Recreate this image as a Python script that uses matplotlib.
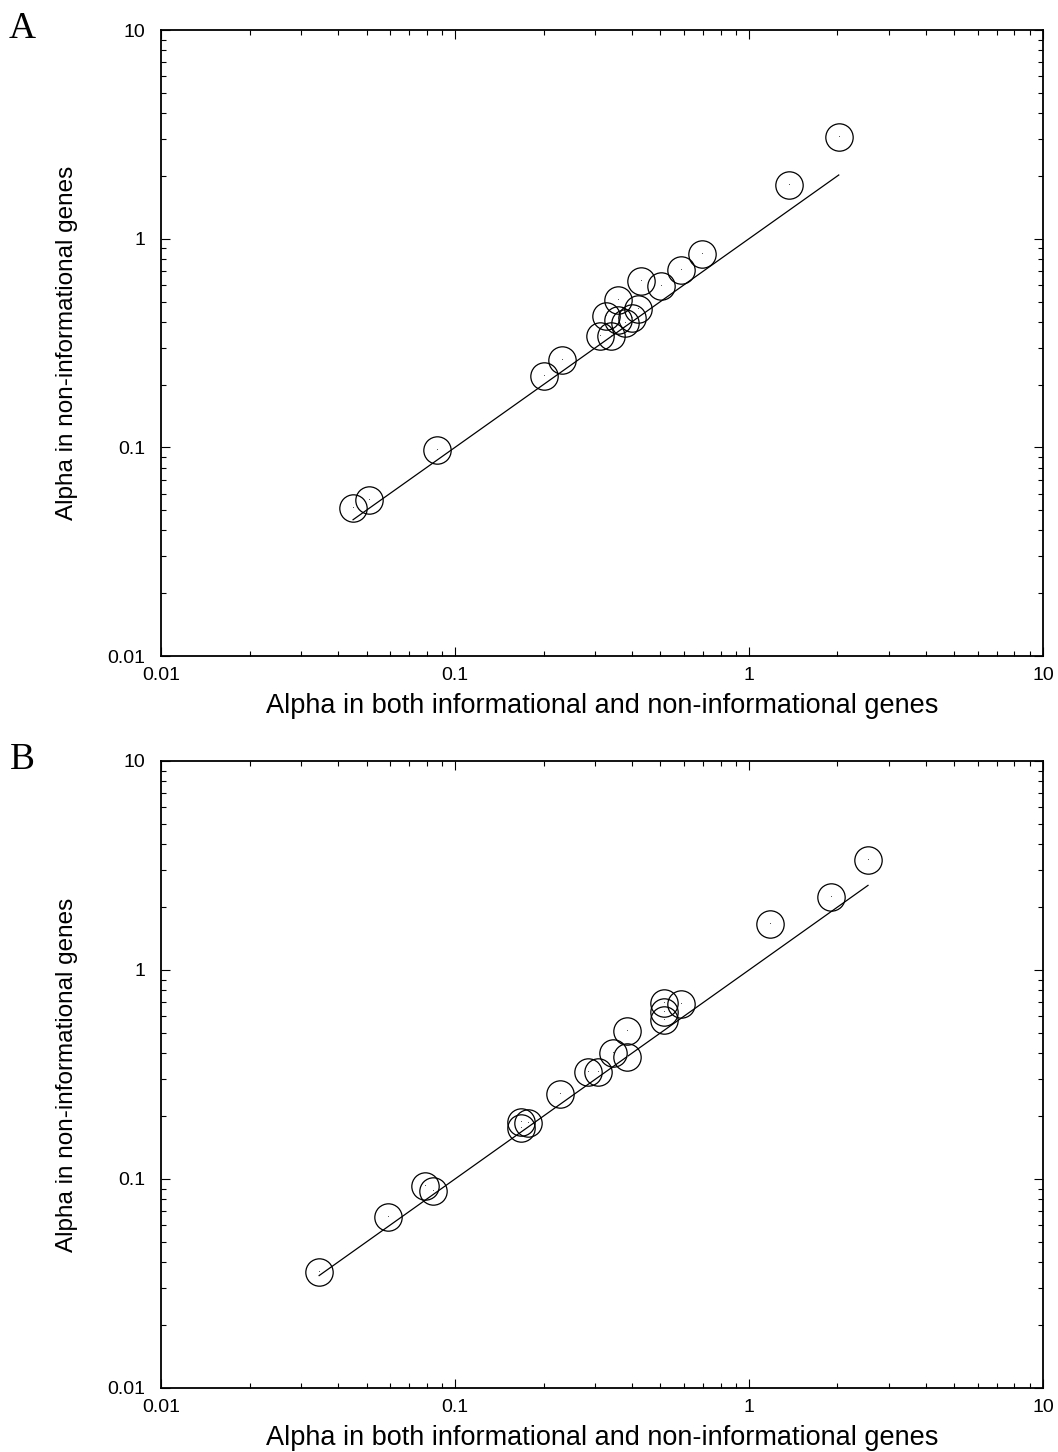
import numpy as np
from matplotlib import pyplot as plt
from matplotlib.ticker import LogLocator, NullFormatter

# panel A: alpha in both gene sets vs alpha in non-informational genes
a_both = [0.045, 0.051, 0.087, 0.201, 0.231, 0.311, 0.339, 0.326, 0.358, 0.358,
          0.379, 0.400, 0.419, 0.429, 0.502, 0.587, 0.692, 1.37, 2.02]
a_noninf = [0.051, 0.056, 0.097, 0.220, 0.262, 0.342, 0.342, 0.426, 0.508, 0.408,
            0.394, 0.417, 0.461, 0.627, 0.593, 0.708, 0.845, 1.81, 3.07]

# panel B
b_both = [0.0345, 0.0592, 0.0791, 0.0842, 0.168, 0.177, 0.168, 0.228, 0.283, 0.306,
          0.345, 0.385, 0.385, 0.514, 0.514, 0.514, 0.587, 1.18, 1.90, 2.54]
b_noninf = [0.0360, 0.0661, 0.0930, 0.0880, 0.188, 0.186, 0.176, 0.256, 0.324, 0.324,
            0.399, 0.382, 0.508, 0.692, 0.627, 0.574, 0.685, 1.66, 2.23, 3.36]

TICKS = [0.01, 0.1, 1, 10]
TICK_LABELS = ["0.01", "0.1", "1", "10"]

plt.rcParams["font.family"] = ["Liberation Sans", "DejaVu Sans"]


def draw_panel(ax, xs, ys):
    ax.set_xscale("log")
    ax.set_yscale("log")
    ax.set_xlim(0.01, 10)
    ax.set_ylim(0.01, 10)

    # identity line over the range of the data
    lo, hi = min(xs), max(xs)
    ax.plot([lo, hi], [lo, hi], color="black", lw=0.9)

    ax.plot(xs, ys, "o", ms=19.7, mfc="none", mec="black", mew=0.9)
    ax.plot(xs, ys, ",", color="0.35")

    ax.set_xticks(TICKS, labels=TICK_LABELS)
    ax.set_yticks(TICKS, labels=TICK_LABELS)
    for axis in (ax.xaxis, ax.yaxis):
        axis.set_minor_locator(LogLocator(base=10, subs=np.arange(2, 10)))
        axis.set_minor_formatter(NullFormatter())
    ax.tick_params(which="both", direction="in", top=True, right=True, width=0.8)
    ax.tick_params(which="major", length=6.5)
    ax.tick_params(which="minor", length=3.5)
    ax.tick_params(axis="x", labelsize=14, pad=8)
    ax.tick_params(axis="y", labelsize=14, pad=11)
    for sp in ax.spines.values():
        sp.set_linewidth(1.3)

    ax.set_xlabel("Alpha in both informational and non-informational genes", fontsize=19.5)
    ax.xaxis.set_label_coords(0.5, -0.059)
    ax.set_ylabel("Alpha in non-informational genes", fontsize=17.5)
    ax.yaxis.set_label_coords(-0.094, 0.5)


fig = plt.figure(figsize=(10.58, 14.52), dpi=100)
ax_a = fig.add_axes([0.1522, 0.5482, 0.8336, 0.4311])
ax_b = fig.add_axes([0.1522, 0.0441, 0.8336, 0.4318])

draw_panel(ax_a, a_both, a_noninf)
draw_panel(ax_b, b_both, b_noninf)

fig.text(0.0213, 0.9738, "A", family="Liberation Serif", fontsize=27, va="baseline", ha="center")
fig.text(0.0213, 0.4704, "B", family="Liberation Serif", fontsize=27, va="baseline", ha="center")

fig.savefig("out.png", dpi=100)
